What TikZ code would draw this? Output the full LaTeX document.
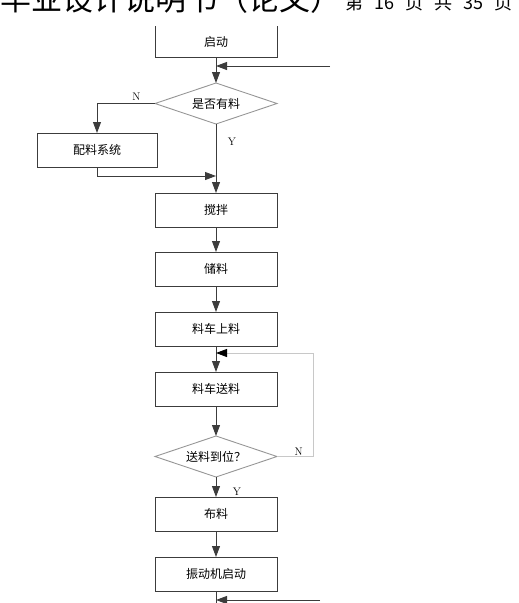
\documentclass[tikz,border=0pt]{standalone}
\usepackage{fontspec}
\newfontfamily\cjk{Noto Sans CJK SC}
\usepackage{tikz}
\usetikzlibrary{arrows.meta,positioning,shapes.geometric,calc}
\definecolor{linegray}{RGB}{60,60,60}
\definecolor{edgegray}{RGB}{150,150,150}
\definecolor{loopgray}{RGB}{200,200,200}

\begin{document}
\begin{tikzpicture}[x=1pt, y=-1pt,
    font=\cjk\fontsize{12}{14}\selectfont,
    stepbox/.style={draw=linegray, line width=0.9pt, align=center, outer sep=0pt,
                    minimum width=122pt, minimum height=34pt, inner sep=2pt},
    decide/.style={diamond, aspect=3, draw=edgegray, line width=0.9pt, align=center,
                   outer sep=0pt, minimum width=122pt, minimum height=41pt, inner sep=0pt},
    flow/.style={-{Triangle[length=11pt, width=8pt]}, line width=0.9pt, draw=linegray},
    lbl/.style={font=\rmfamily\fontsize{11}{12}\selectfont}]

    \useasboundingbox (0,0) rectangle (519,603);

    % cut page header
    \node[anchor=base west, inner sep=0pt, font=\cjk\fontsize{31}{34}\selectfont] (head) at (0,10)
        {毕业设计说明书（论文）};
    \node[anchor=base west, inner sep=0pt, font=\cjk\fontsize{18}{20}\selectfont] (page) at (345,9)
        {第\hspace{11pt}16\hspace{11pt}页\hspace{11pt}共\hspace{11pt}35\hspace{11pt}页};

    \node[stepbox, draw=none, minimum height=31pt] (start) at (216,41.5) {启动};
    \draw[draw=linegray, line width=0.9pt] (start.north west) -- (start.south west) -- (start.south east) -- (start.north east);
    \node[decide, below=26pt of start] (havemat) {是否有料};
    \node[stepbox, minimum width=120pt] (batch) at (97,150) {配料系统};
    \node[stepbox, below=69pt of havemat] (mix) {搅拌};
    \node[stepbox, below=25pt of mix] (store) {储料};
    \node[stepbox, below=26pt of store] (load) {料车上料};
    \node[stepbox, below=26pt of load] (carry) {料车送料};
    \node[decide, below=30pt of carry] (arrived) {送料到位？};
    \node[stepbox, below=20pt of arrived] (spread) {布料};
    \node[stepbox, below=26pt of spread] (vibrate) {振动机启动};

    \coordinate (fbtop) at (330,66);
    \coordinate (merge) at (216,176);
    \coordinate (fbloop) at (313,353);
    \coordinate (fbend) at (320,600);
    \coordinate (down) at (216,612);

    \draw[flow] (start) -- (havemat);
    \draw[flow] (fbtop) -- (fbtop -| start);
    \draw[flow] (havemat.west) -| node[lbl, pos=0.1, above left=-1pt]{N} (batch.north);
    \draw[flow] (batch.south) |- (merge);
    \draw[flow] (havemat.south) -- node[lbl, pos=0.25, right=8pt]{Y} (mix.north);
    \foreach \a/\b in {mix/store, store/load, load/carry, carry/arrived, spread/vibrate} {
        \draw[flow] (\a) -- (\b);
    }
    \draw[flow, draw=loopgray, -{Triangle[length=11pt, width=8pt, color=black]}]
        (arrived.east) -| node[lbl, pos=0.3, above=-3pt]{N} (fbloop) -- (fbloop -| carry);
    \draw[flow] (arrived) -- node[lbl, pos=0.75, right=13pt]{Y} (spread);
    \draw[draw=linegray, line width=0.9pt] (vibrate.south) -- (down);
    \draw[flow] (fbend) -- (fbend -| vibrate);
\end{tikzpicture}
\end{document}
